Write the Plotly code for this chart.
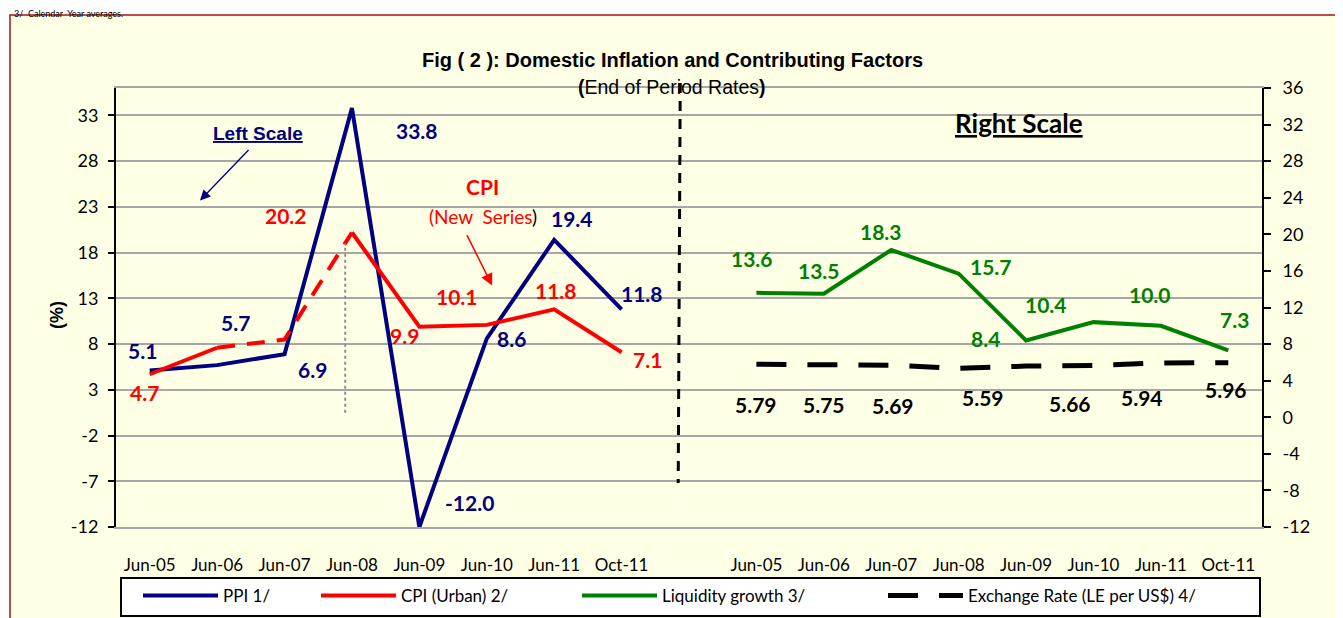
import plotly.graph_objects as go

# ---- data ----
periods = ["Jun-05", "Jun-06", "Jun-07", "Jun-08", "Jun-09", "Jun-10", "Jun-11", "Oct-11"]
ppi = [5.1, 5.7, 6.9, 33.8, -12.0, 8.6, 19.4, 11.8]
cpi_urban = [4.7, 7.6, 8.5, 20.2, 9.9, 10.1, 11.8, 7.1]
liquidity = [13.6, 13.5, 18.3, 15.7, 8.4, 10.4, 10.0, 7.3]
exchange = [5.79, 5.75, 5.69, 5.34, 5.59, 5.66, 5.94, 5.96]

left_ticks = [33, 28, 23, 18, 13, 8, 3, -2, -7, -12]
right_ticks = [36, 32, 28, 24, 20, 16, 12, 8, 4, 0, -4, -8, -12]

# label offsets in px (dx, dy down); None = label not shown
ppi_lbl = [(-7, -20), (18, -43), (28, 15), (65, 22), (50, -25), (25, 0), (18, -21), (20, -16)]
cpi_lbl = [(-5, 18), None, None, (-66, -17), (-15, 9), (-30, -28), (2, -19), (26, 7)]
liq_lbl = [(-4, -34), (-5, -23), (-10, -18), (32, -7), (-41, -2), (-47, -18), (-11, -31), (6, -31)]
exc_lbl = [(0, 40), (0, 40), (2, 40), None, (-43, 31), (-23, 38), (-19, 35), (-2, 27)]

NAVY = "#000080"
RED = "#FF0000"
GREEN = "#008000"
GRID = "#A6A6A6"
GILL = "Lato"
ARIAL = "Liberation Sans, Arial"

n = len(periods)
xl = list(range(n))                  # left block
xr = [n + 1 + i for i in range(n)]   # right block, one empty slot between

# page has an 8px body margin, so the figure is laid out 8px up/left
OFF = 8
W, H = 1343 - OFF, 618 - OFF
L, R, T, B = 116 - OFF, 1262 - OFF, 88 - OFF, 527 - OFF


def px(x):  # page pixel -> paper x
    return (x - OFF - L) / (R - L)


def py(y):  # page pixel -> paper y
    return (B - (y - OFF)) / (B - T)


fig = go.Figure()

fig.add_trace(go.Scatter(x=xl, y=ppi, mode="lines", name="PPI 1/",
                         line=dict(color=NAVY, width=4), legendrank=1, legendwidth=88))
fig.add_trace(go.Scatter(x=xl[:2], y=cpi_urban[:2], mode="lines", showlegend=False,
                         line=dict(color=RED, width=4)))
fig.add_trace(go.Scatter(x=xl[1:4], y=cpi_urban[1:4], mode="lines", showlegend=False,
                         line=dict(color=RED, width=4, dash="18px,12px")))
fig.add_trace(go.Scatter(x=xl[3:], y=cpi_urban[3:], mode="lines", name="CPI (Urban) 2/",
                         line=dict(color=RED, width=4), legendrank=2, legendwidth=171))
fig.add_trace(go.Scatter(x=xr, y=liquidity, mode="lines", name="Liquidity growth 3/", yaxis="y2",
                         line=dict(color=GREEN, width=4), legendrank=3, legendwidth=216))
fig.add_trace(go.Scatter(x=xr, y=exchange, mode="lines", name="Exchange Rate (LE per US$) 4/",
                         yaxis="y2", line=dict(color="black", width=5, dash="30px,21px"),
                         legendrank=4, legendwidth=240))

ann = []


def labels(xs, vals, offs, color, fmt, yref):
    for x, v, o in zip(xs, vals, offs):
        if o is None:
            continue
        ann.append(dict(x=x, y=v, xref="x", yref=yref, text=fmt.format(v), showarrow=False,
                        xshift=o[0], yshift=-o[1],
                        font=dict(family=GILL, size=21, color=color, weight="bold")))


labels(xl, ppi, ppi_lbl, NAVY, "{:.1f}", "y")
labels(xl, cpi_urban, cpi_lbl, RED, "{:.1f}", "y")
labels(xr, liquidity, liq_lbl, GREEN, "{:.1f}", "y2")
labels(xr, exchange, exc_lbl, "black", "{:.2f}", "y2")

# titles and notes
ann += [
    dict(x=px(672), y=py(47), xref="paper", yref="paper", showarrow=False,
         text="<b>Fig ( 2 ): Domestic Inflation and Contributing Factors</b>",
         font=dict(family=ARIAL, size=20, color="black")),
    dict(x=px(672), y=py(74), xref="paper", yref="paper", showarrow=False,
         text="<b>(</b>End of Period Rates<b>)</b>",
         font=dict(family=ARIAL, size=19.5, color="black")),
    dict(x=px(45), y=py(315), xref="paper", yref="paper", showarrow=False, textangle=-90,
         text="<b>(%)</b>", font=dict(family=ARIAL, size=18, color="black")),
    dict(x=px(12), y=py(13), xref="paper", yref="paper", showarrow=False, xanchor="left",
         yanchor="middle", text="3/  Calendar  Year averages.",
         font=dict(family=GILL, size=9, color="black")),
    dict(x=1.607, y=31.0, xref="x", yref="y", showarrow=False,
         text="<b><u>Left Scale</u></b>", font=dict(family=ARIAL, size=19, color=NAVY)),
    dict(x=0.746, y=23.7, xref="x", yref="y", text="", showarrow=True, ax=50, ay=-52,
         arrowhead=2, arrowsize=1.6, arrowwidth=1.3, arrowcolor=NAVY),
    dict(x=4.944, y=25.2, xref="x", yref="y", showarrow=False,
         text="<b>CPI</b>", font=dict(family=GILL, size=21, color=RED)),
    dict(x=4.944, y=21.9, xref="x", yref="y", showarrow=False,
         text="(New  Series<span style='color:black'>)</span>",
         font=dict(family=GILL, size=19, color=RED)),
    dict(x=5.08, y=14.4, xref="x", yref="y", text="", showarrow=True, ax=-26, ay=-52,
         arrowhead=2, arrowsize=1.6, arrowwidth=1.5, arrowcolor=RED),
    dict(x=12.9, y=32.2, xref="x", yref="y", showarrow=False,
         text="<b><u>Right Scale</u></b>", font=dict(family=GILL, size=26, color="black")),
]

shapes = [
    # cream frame with dark red border
    dict(type="rect", xref="paper", yref="paper", x0=px(10), x1=px(1360), y0=py(640), y1=py(15),
         fillcolor="#FFFFE6", line=dict(color="#A0141E", width=1.5), layer="below"),
    # legend box
    dict(type="rect", xref="paper", yref="paper", x0=px(121), x1=px(1260), y0=py(616), y1=py(578),
         fillcolor="white", line=dict(color="black", width=2), layer="above"),
    # separator between left and right scale
    dict(type="line", xref="x", yref="paper", x0=n - 0.13, x1=n - 0.16, y0=py(83), y1=py(483),
         line=dict(color="black", width=3, dash="10px,8px")),
    # dotted drop line at the CPI break
    dict(type="line", xref="x", yref="y", x0=3 - 0.1, x1=3 - 0.1, y0=0.5, y1=19.0,
         line=dict(color="#909090", width=2, dash="dot")),
]

fig.update_layout(
    width=W, height=H,
    margin=dict(l=L, r=W - R, t=T, b=H - B, autoexpand=False),
    paper_bgcolor="white", plot_bgcolor="white",
    showlegend=True,
    legend=dict(orientation="h", x=px(138), y=py(596), xanchor="left", yanchor="middle",
                bgcolor="rgba(0,0,0,0)", borderwidth=0,
                font=dict(family=GILL, size=17, color="black"), itemwidth=75,
                traceorder="normal"),
    annotations=ann, shapes=shapes,
    xaxis=dict(range=[-0.5, xr[-1] + 0.5], tickvals=xl + xr, ticktext=periods + periods,
               ticks="outside", ticklen=22, tickcolor="rgba(0,0,0,0)", showgrid=False,
               zeroline=False, showline=True, linecolor=GRID, linewidth=2, mirror=True,
               tickfont=dict(family=GILL, size=17, color="black")),
    xaxis2=dict(overlaying="x", anchor="free", position=0.25, range=[-0.5, xr[-1] + 0.5],
                tickvals=[i + 0.5 for i in range(xr[-1])], ticks="outside", ticklen=8,
                tickwidth=2, tickcolor="black", showticklabels=False, showgrid=False,
                zeroline=False, showline=True, linecolor="black", linewidth=2),
    yaxis=dict(range=[-12, 36], tickvals=left_ticks, ticktext=[str(t) for t in left_ticks],
               ticks="outside", ticklen=6,
               tickwidth=2, tickcolor="black", showline=True, linecolor="black", linewidth=2,
               showgrid=True, gridcolor=GRID, gridwidth=2, zeroline=False,
               ticklabelstandoff=6, tickfont=dict(family=GILL, size=18, color="black")),
    yaxis2=dict(overlaying="y", side="right", range=[-12, 36], tickvals=right_ticks,
                ticktext=[str(t) for t in right_ticks],
                ticks="outside", ticklen=7, tickwidth=2, tickcolor="black", showline=True,
                linecolor="black", linewidth=2, showgrid=False, zeroline=False,
                ticklabelstandoff=8, tickfont=dict(family=GILL, size=18, color="black")),
    yaxis3=dict(overlaying="y", side="right", range=[-12, 36], tickvals=right_ticks,
                ticks="inside", ticklen=7, tickwidth=2, tickcolor="black",
                showticklabels=False, showline=False, showgrid=False, zeroline=False),
)

fig.write_html("out.html")
